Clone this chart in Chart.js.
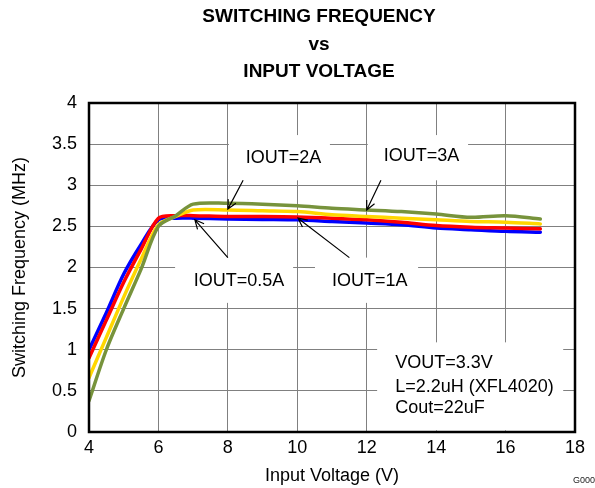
<!DOCTYPE html>
<html>
<head>
<meta charset="utf-8">
<script src="https://cdn.jsdelivr.net/npm/chart.js@4/dist/chart.umd.min.js"></script>
<style>
html,body{margin:0;padding:0;background:#fff;}
#wrap{width:595px;height:488px;}
</style>
</head>
<body>
<div id="wrap"><canvas id="c" width="595" height="488"></canvas></div>
<script>
// ---- data ----
const voltages = [4, 4.5, 5, 5.5, 6, 6.5, 7, 8, 9, 10, 11, 12, 13, 14, 15, 16, 17];
const freqIout05 = [1.00, 1.45, 1.92, 2.28, 2.58, 2.60, 2.60, 2.59, 2.585, 2.58, 2.56, 2.54, 2.52, 2.48, 2.46, 2.44, 2.43];
const freqIout1  = [0.90, 1.36, 1.82, 2.22, 2.60, 2.63, 2.63, 2.62, 2.62, 2.615, 2.60, 2.58, 2.55, 2.51, 2.49, 2.48, 2.47];
const freqIout2  = [0.66, 1.15, 1.64, 2.10, 2.52, 2.62, 2.70, 2.70, 2.69, 2.68, 2.64, 2.62, 2.60, 2.58, 2.56, 2.55, 2.53];
const freqIout3  = [0.38, 1.00, 1.50, 1.98, 2.50, 2.63, 2.77, 2.78, 2.77, 2.75, 2.72, 2.70, 2.68, 2.65, 2.61, 2.63, 2.59];
const seriesNames = ['IOUT=0.5A', 'IOUT=1A', 'IOUT=2A', 'IOUT=3A'];
const titleLines = ['SWITCHING FREQUENCY', 'vs', 'INPUT VOLTAGE'];
const xAxisTitle = 'Input Voltage (V)';
const yAxisTitle = 'Switching Frequency (MHz)';
const conditionLines = ['VOUT=3.3V', 'L=2.2uH (XFL4020)', 'Cout=22uF'];
const figureId = 'G000';

// label annotations in data coordinates: text centre, white box [x0,x1,yTop,yBottom], arrow tail -> tip
const labelCenters = [[8.32, 1.83], [12.09, 1.83], [9.60, 3.33], [13.58, 3.35]];
const labelBoxes = [[6.48, 9.88, 2.12, 1.57], [10.51, 13.48, 2.12, 1.57], [8.03, 10.94, 3.61, 3.06], [12.03, 14.92, 3.61, 3.06]];
const arrowTails = [[8.0, 2.12], [11.5, 2.12], [8.44, 3.06], [12.41, 3.06]];
const arrowTips  = [[7.05, 2.58], [10.02, 2.60], [8.0, 2.71], [12.0, 2.70]];
const conditionBox = [12.3, 17.66, 1.09, 0.02];
const conditionX = 12.82;
const conditionY = [0.839, 0.547, 0.292];

const colors = ['#0000FF', '#FF0000', '#FFD700', '#77933C'];
const FONT = '"Liberation Sans", Arial, Helvetica, sans-serif';

function pts(arr){ return voltages.map((v,i)=>({x:v, y:arr[i]})); }

const annot = {
  id: 'annot',
  beforeDatasetsDraw(chart){
    const {ctx, scales:{x, y}} = chart;
    ctx.save();
    ctx.fillStyle = '#fff';
    labelBoxes.concat([conditionBox]).forEach(b=>{
      const x0 = x.getPixelForValue(b[0]), x1 = x.getPixelForValue(b[1]);
      const y0 = y.getPixelForValue(b[2]), y1 = y.getPixelForValue(b[3]);
      ctx.fillRect(x0, y0, x1-x0, y1-y0);
    });
    ctx.restore();
  },
  afterDatasetsDraw(chart){
    const {ctx, scales:{x, y}} = chart;
    ctx.save();
    ctx.fillStyle = '#000';
    ctx.font = '18px ' + FONT;
    ctx.textAlign = 'center';
    ctx.textBaseline = 'middle';
    seriesNames.forEach((t,i)=>{
      ctx.fillText(t, x.getPixelForValue(labelCenters[i][0]), y.getPixelForValue(labelCenters[i][1]));
    });
    ctx.textAlign = 'left';
    conditionLines.forEach((t,i)=>{
      ctx.fillText(t, x.getPixelForValue(conditionX), y.getPixelForValue(conditionY[i]));
    });
    ctx.strokeStyle = '#000';
    ctx.lineWidth = 1.2;
    arrowTails.forEach((tl,i)=>{
      const x0 = x.getPixelForValue(tl[0]), y0 = y.getPixelForValue(tl[1]);
      const x1 = x.getPixelForValue(arrowTips[i][0]), y1 = y.getPixelForValue(arrowTips[i][1]);
      const ang = Math.atan2(y1-y0, x1-x0);
      const L = 10, sp = 0.45;
      ctx.beginPath();
      ctx.moveTo(x0,y0); ctx.lineTo(x1,y1);
      ctx.moveTo(x1 - L*Math.cos(ang-sp), y1 - L*Math.sin(ang-sp));
      ctx.lineTo(x1,y1);
      ctx.lineTo(x1 - L*Math.cos(ang+sp), y1 - L*Math.sin(ang+sp));
      ctx.stroke();
    });
    ctx.restore();
  },
  afterDraw(chart){
    const {ctx, chartArea:a} = chart;
    ctx.save();
    ctx.strokeStyle = '#000';
    ctx.lineWidth = 2.5;
    ctx.strokeRect(a.left, a.top, a.right-a.left, a.bottom-a.top);
    ctx.fillStyle = '#000';
    ctx.font = 'bold 19px ' + FONT;
    ctx.textAlign = 'center';
    ctx.textBaseline = 'middle';
    const tx = 319, ty = [17, 44.5, 72];
    titleLines.forEach((t,i)=>ctx.fillText(t, tx, ty[i]));
    ctx.font = '9px ' + FONT;
    ctx.textAlign = 'left';
    ctx.fillStyle = '#222';
    ctx.fillText(figureId, 573, 481);
    ctx.restore();
  }
};

new Chart(document.getElementById('c'), {
  type: 'line',
  data: {
    datasets: [
      {label: seriesNames[0], data: pts(freqIout05), borderColor: colors[0], order: 4},
      {label: seriesNames[1], data: pts(freqIout1),  borderColor: colors[1], order: 3},
      {label: seriesNames[2], data: pts(freqIout2),  borderColor: colors[2], order: 2},
      {label: seriesNames[3], data: pts(freqIout3),  borderColor: colors[3], order: 1}
    ]
  },
  options: {
    responsive: false,
    animation: false,
    layout: {padding: {top: 103, right: 20, left: 0, bottom: 0}},
    elements: {
      line: {borderWidth: 3.5, tension: 0.3, fill: false, borderCapStyle: 'round', borderJoinStyle: 'round'},
      point: {radius: 0}
    },
    plugins: {legend: {display: false}, tooltip: {enabled: false}, title: {display: false}},
    scales: {
      x: {
        type: 'linear', min: 4, max: 18,
        ticks: {stepSize: 2, color: '#000', font: {family: FONT, size: 18}, padding: 5, maxRotation: 0},
        grid: {color: '#808080', lineWidth: 1, drawTicks: false},
        border: {display: false},
        title: {display: true, text: xAxisTitle, color: '#000', font: {family: FONT, size: 18}, padding: {top: 0, bottom: 1}},
        afterFit(s){ s.height = 56; }
      },
      y: {
        type: 'linear', min: 0, max: 4,
        ticks: {stepSize: 0.5, color: '#000', font: {family: FONT, size: 18}, padding: 12,
          callback: v => String(v)},
        grid: {color: '#808080', lineWidth: 1, drawTicks: false},
        border: {display: false},
        title: {display: true, text: yAxisTitle, color: '#000', font: {family: FONT, size: 18}, padding: {top: 9, bottom: 0}},
        afterFit(s){ s.width = 89; }
      }
    }
  },
  plugins: [annot]
});
</script>
</body>
</html>
